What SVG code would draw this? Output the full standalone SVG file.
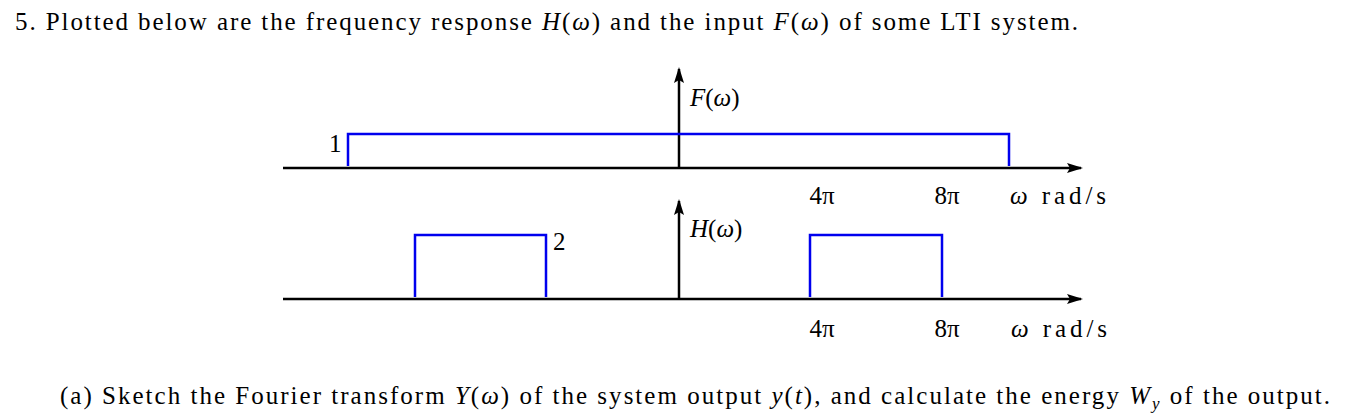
<svg xmlns="http://www.w3.org/2000/svg" width="1360" height="418" viewBox="0 0 1360 418">
<style>
text{font-family:"Liberation Serif","DejaVu Serif",serif;font-size:25px;fill:#000}
.ax{stroke:#000;stroke-width:2.5;fill:none}
.sig{stroke:#0000ee;stroke-width:2.5;fill:none}
.m{text-anchor:middle}
</style>
<defs><marker id="ah" markerWidth="16" markerHeight="10" refX="14" refY="5" orient="auto" markerUnits="userSpaceOnUse"><path d="M0,0 L16,5 L0,10 L3,5 z" fill="#000"/></marker></defs>
<rect width="1360" height="418" fill="#fff"/>
<text x="15" y="30" textLength="1063" lengthAdjust="spacing">5. Plotted below are the frequency response <tspan font-style="italic">H</tspan>(<tspan font-style="italic">ω</tspan>) and the input <tspan font-style="italic">F</tspan>(<tspan font-style="italic">ω</tspan>) of some LTI system.</text>
<g id="connectors">
<line class="ax" x1="283" y1="168" x2="1081" y2="168" marker-end="url(#ah)"/>
<line class="ax" x1="679" y1="168" x2="679" y2="69" marker-end="url(#ah)"/>
<line class="ax" x1="283" y1="299" x2="1081" y2="299" marker-end="url(#ah)"/>
<line class="ax" x1="679" y1="299" x2="679" y2="201" marker-end="url(#ah)"/>
</g>
<g id="F"><path class="sig" d="M348,166 V134 H1009 V166"/>
<text x="329" y="152">1</text><text x="690" y="106"><tspan font-style="italic">F</tspan>(<tspan font-style="italic">ω</tspan>)</text></g>
<g id="H"><path class="sig" d="M415,297 V235 H546 V297"/><path class="sig" d="M810,297 V235 H942 V297"/>
<text x="553" y="250">2</text><text x="690" y="237"><tspan font-style="italic">H</tspan>(<tspan font-style="italic">ω</tspan>)</text></g>
<g id="ticks">
<text class="m" x="822" y="204">4π</text><text class="m" x="947" y="204">8π</text><text x="1010" y="204" textLength="96"><tspan font-style="italic">ω</tspan> rad/s</text>
<text class="m" x="822" y="337">4π</text><text class="m" x="947" y="337">8π</text><text x="1011" y="337" textLength="96"><tspan font-style="italic">ω</tspan> rad/s</text>
</g>
<text x="60" y="404" textLength="1270" lengthAdjust="spacing">(a) Sketch the Fourier transform <tspan font-style="italic">Y</tspan>(<tspan font-style="italic">ω</tspan>) of the system output <tspan font-style="italic">y</tspan>(<tspan font-style="italic">t</tspan>), and calculate the energy <tspan font-style="italic">W</tspan><tspan font-style="italic" font-size="17" dy="5">y</tspan><tspan dy="-5"> of the output.</tspan></text>
</svg>
